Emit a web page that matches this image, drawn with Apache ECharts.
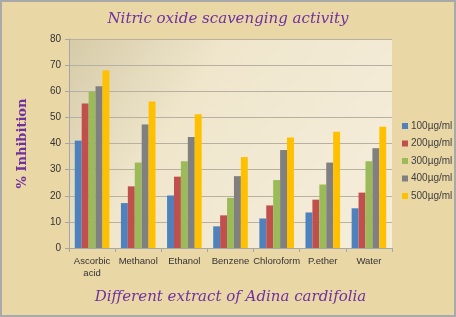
<!DOCTYPE html>
<html lang="en">
  <head>
    <meta charset="UTF-8" />
    <title>Nitric oxide scavenging activity</title>
    <script src="https://cdn.jsdelivr.net/npm/echarts@6/dist/echarts.min.js"></script>
    <style>
      html, body { margin: 0; padding: 0; }
      .box {
        width: 456px;
        height: 317px;
        box-sizing: border-box;
        border: 2px solid #a9a9a9;
        background: #ead7a6;
      }
    </style>
  </head>
  <body>
    <div class="box"></div>
    <script>
      // data
      var extracts = ["Ascorbic\nacid", "Methanol", "Ethanol", "Benzene", "Chloroform", "P.ether", "Water"];
      var dose100 = [41.1, 17.2, 20.1, 8.3, 11.3, 13.6, 15.2];
      var dose200 = [55.3, 23.6, 27.3, 12.5, 16.3, 18.5, 21.2];
      var dose300 = [59.9, 32.7, 33.2, 19.2, 26.0, 24.3, 33.2];
      var dose400 = [61.9, 47.3, 42.5, 27.5, 37.5, 32.7, 38.2];
      var dose500 = [67.9, 56.1, 51.2, 34.8, 42.3, 44.5, 46.4];
      var seriesNames = ["100µg/ml", "200µg/ml", "300µg/ml", "400µg/ml", "500µg/ml"];
      var colors = ["#4f81bd", "#c0504d", "#9bbb59", "#808080", "#ffc000"];

      var box = document.getElementsByClassName("box")[0];
      var chart = echarts.init(box);

      var allData = [dose100, dose200, dose300, dose400, dose500];
      var series = [];
      for (var i = 0; i < allData.length; i++) {
        series.push({
          name: seriesNames[i],
          type: "bar",
          data: allData[i],
          barGap: "0%",
          barCategoryGap: "25%",
          itemStyle: { color: colors[i] },
        });
      }

      chart.setOption({
        animation: false,
        color: colors,
        title: {
          text: "Nitric oxide scavenging activity",
          left: "center",
          top: 5,
          textStyle: {
            fontFamily: "DejaVu Serif",
            fontStyle: "italic",
            fontWeight: "normal",
            fontSize: 15,
            color: "#7030a0",
          },
        },
        legend: {
          orient: "vertical",
          left: 395,
          top: 114,
          itemWidth: 6,
          itemHeight: 6,
          itemGap: 7.5,
          icon: "rect",
          textStyle: { fontFamily: "Liberation Sans", fontSize: 10, color: "#404040", padding: [0, 0, 0, -2] },
          data: seriesNames,
        },
        grid: {
          left: 67,
          right: 62,
          top: 37,
          bottom: 67,
          show: true,
          borderWidth: 0,
          backgroundColor: {
            type: "linear",
            x: 0, y: 0, x2: 1, y2: 1,
            colorStops: [
              { offset: 0, color: "#d6cba8" },
              { offset: 0.35, color: "#efe6cc" },
              { offset: 1, color: "#f5eedc" },
            ],
          },
        },
        xAxis: {
          type: "category",
          data: extracts,
          name: "Different extract of Adina cardifolia",
          nameLocation: "middle",
          nameGap: 42,
          nameTextStyle: {
            fontFamily: "DejaVu Serif",
            fontStyle: "italic",
            fontSize: 15,
            color: "#7030a0",
          },
          axisLine: { lineStyle: { color: "#a6a6a6" } },
          axisTick: { show: true, length: 4, lineStyle: { color: "#a6a6a6" } },
          axisLabel: { interval: 0, fontFamily: "Liberation Sans", fontSize: 9.5, color: "#333", lineHeight: 12, margin: 7 },
        },
        yAxis: {
          type: "value",
          min: 0,
          max: 80,
          interval: 10,
          name: "% Inhibition",
          nameLocation: "middle",
          nameGap: 40,
          nameTextStyle: {
            fontFamily: "DejaVu Serif",
            fontWeight: "bold",
            fontSize: 13,
            color: "#7030a0",
          },
          axisLine: { show: true, lineStyle: { color: "#a6a6a6" } },
          axisTick: { show: true, length: 4, lineStyle: { color: "#a6a6a6" } },
          axisLabel: { fontFamily: "Liberation Sans", fontSize: 10, color: "#333", margin: 8 },
          splitLine: { lineStyle: { color: "#b8b0a0", width: 1 } },
        },
        series: series,
      });
    </script>
  </body>
</html>
